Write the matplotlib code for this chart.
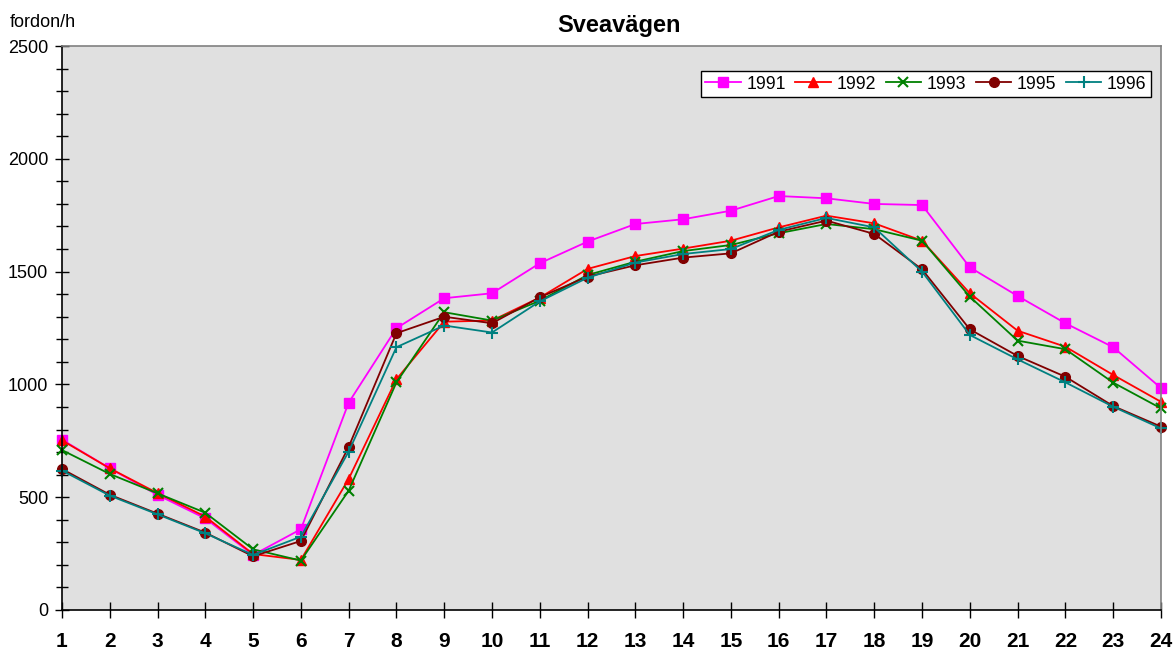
import matplotlib
matplotlib.use("Agg")
import matplotlib.pyplot as plt
from matplotlib.ticker import MultipleLocator

plt.rcParams['font.family'] = ['Liberation Sans', 'DejaVu Sans']

hours = list(range(1, 25))

y1991 = [755, 628, 510, 406, 244, 358, 919, 1249, 1382, 1404, 1537, 1633,
         1711, 1732, 1770, 1835, 1825, 1800, 1795, 1519, 1392, 1271, 1165, 984]
y1992 = [752, 628, 518, 414, 248, 222, 581, 1023, 1278, 1283, 1385, 1512,
         1569, 1602, 1637, 1696, 1748, 1714, 1637, 1404, 1238, 1167, 1042, 923]
y1993 = [709, 603, 517, 431, 269, 219, 529, 1009, 1320, 1283, 1371, 1485,
         1544, 1591, 1618, 1670, 1711, 1688, 1637, 1389, 1194, 1156, 1008, 894]
y1995 = [625, 511, 427, 343, 238, 306, 723, 1227, 1300, 1271, 1386, 1478,
         1528, 1562, 1581, 1677, 1726, 1667, 1510, 1244, 1126, 1034, 904, 813]
y1996 = [618, 507, 424, 340, 244, 325, 702, 1165, 1261, 1230, 1368, 1473,
         1540, 1578, 1600, 1685, 1738, 1696, 1500, 1219, 1111, 1009, 901, 805]

series = [
    ("1991", y1991, "#FF00FF", "s", 7),
    ("1992", y1992, "#FF0000", "^", 7),
    ("1993", y1993, "#008000", "x", 7),
    ("1995", y1995, "#800000", "o", 7),
    ("1996", y1996, "#008080", "+", 9),
]

fig = plt.figure(figsize=(11.76, 6.49), dpi=100)
ax = fig.add_axes([0.0527, 0.0601, 0.9345, 0.869])
ax.set_facecolor("#E0E0E0")

for label, vals, col, mk, ms in series:
    ax.plot(hours, vals, color=col, marker=mk, markersize=ms, linewidth=1.3,
            markeredgewidth=1.5 if mk in "x+" else 1, label=label, clip_on=False)

ax.set_xlim(1, 24)
ax.set_ylim(0, 2500)
ax.set_xticks(hours)
ax.yaxis.set_major_locator(MultipleLocator(500))
ax.yaxis.set_minor_locator(MultipleLocator(100))
ax.tick_params(axis="y", which="major", direction="inout", length=10, width=1, labelsize=13, pad=5)
ax.tick_params(axis="y", which="minor", direction="inout", length=9, width=1)
ax.tick_params(axis="x", which="major", direction="inout", length=11, width=1, labelsize=15, pad=10)
for t in ax.get_xticklabels():
    t.set_fontweight("bold")

ax.spines["left"].set_color("black")
ax.spines["bottom"].set_color("black")
ax.spines["top"].set_color("#808080")
ax.spines["right"].set_color("#808080")
for s in ax.spines.values():
    s.set_linewidth(1.2)

ax.set_title("Sveavägen", fontsize=17, fontweight="bold", pad=10, x=0.507)
fig.text(0.0085, 0.958, "fordon/h", fontsize=13, ha="left", va="baseline")

leg = ax.legend(loc="upper right", ncol=5, fontsize=12.8, frameon=True, fancybox=False,
                edgecolor="black", framealpha=1, handlelength=2.0, handletextpad=0.3,
                columnspacing=0.55, borderpad=0.25, bbox_to_anchor=(0.9988, 0.971))
leg.get_frame().set_linewidth(1.0)

fig.savefig("out.png", dpi=100)
